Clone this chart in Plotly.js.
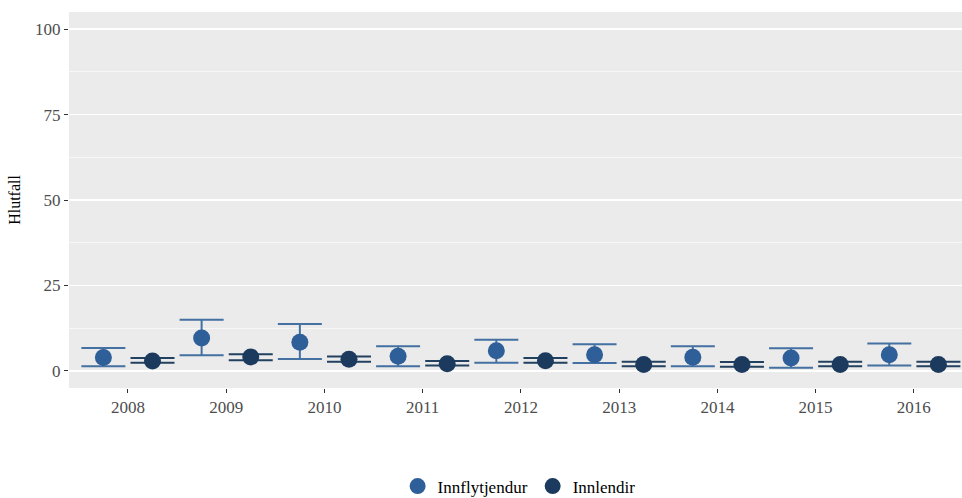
<!DOCTYPE html>
<html>
<head>
<meta charset="utf-8">
<script src="https://cdn.plot.ly/plotly-3.0.1.min.js"></script>
<style>html,body{margin:0;padding:0;background:#fff;}#chart{width:962px;height:498px;}</style>
</head>
<body>
<div id="chart"></div>
<script>
const years = ['2008','2009','2010','2011','2012','2013','2014','2015','2016'];

const innflytjendurValue = [3.9, 9.6, 8.4, 4.3, 5.9, 4.75, 4.0, 3.8, 4.75];
const innflytjendurUpper = [6.7, 15.0, 13.7, 7.2, 9.1, 7.8, 7.2, 6.6, 8.0];
const innflytjendurLower = [1.35, 4.6, 3.5, 1.35, 2.4, 2.3, 1.35, 0.96, 1.55];

const innlendirValue = [2.9, 4.1, 3.4, 2.1, 3.0, 1.9, 1.85, 1.9, 1.9];
const innlendirUpper = [3.8, 4.85, 4.2, 2.9, 3.8, 2.7, 2.6, 2.7, 2.7];
const innlendirLower = [2.4, 3.1, 2.7, 1.55, 2.4, 1.35, 1.25, 1.35, 1.35];

const yTicks = [0, 25, 50, 75, 100];

const colLight = '#2f5f98';
const colDark = '#1c3a5e';

function mkTrace(name, vals, up, lo, color, barColor) {
  return {
    type: 'scatter', mode: 'markers', name: name,
    x: years, y: vals,
    marker: {color: color, size: 17, line: {width: 0}},
    error_y: {
      type: 'data', symmetric: false,
      array: vals.map((v, i) => up[i] - v),
      arrayminus: vals.map((v, i) => v - lo[i]),
      color: barColor, thickness: 2, width: 22
    }
  };
}

const data = [
  mkTrace('Innflytjendur', innflytjendurValue, innflytjendurUpper, innflytjendurLower, colLight, '#4470a2'),
  mkTrace('Innlendir', innlendirValue, innlendirUpper, innlendirLower, colDark, '#22405f')
];

const fam = '"Liberation Serif", "Times New Roman", serif';

const layout = {
  width: 962, height: 498,
  margin: {l: 69, r: 0, t: 12, b: 110, autoexpand: false},
  paper_bgcolor: '#ffffff',
  plot_bgcolor: '#ebebeb',
  font: {family: fam, size: 17, color: '#4d4d4d'},
  scattermode: 'group',
  scattergap: 0,
  showlegend: true,
  legend: {
    orientation: 'h', x: 0.368, xanchor: 'left', y: -0.262, yanchor: 'middle',
    font: {family: fam, size: 17, color: '#000'},
    itemwidth: 30, bgcolor: 'rgba(0,0,0,0)'
  },
  xaxis: {
    type: 'category', range: [-0.6, 8.49],
    showgrid: false, zeroline: false,
    ticks: 'outside', ticklen: 4, tickcolor: '#333', tickwidth: 1,
    tickfont: {family: fam, size: 17, color: '#4d4d4d'},
    showline: false
  },
  yaxis: {
    range: [-5, 105],
    tickvals: yTicks, ticktext: yTicks.map(String),
    showgrid: true, gridcolor: '#ffffff', gridwidth: 1.4,
    zeroline: false,
    ticks: 'outside', ticklen: 4, tickcolor: '#333', tickwidth: 1,
    tickfont: {family: fam, size: 17, color: '#4d4d4d'},
    minor: {dtick: 12.5, tick0: 12.5, showgrid: true, gridcolor: '#ffffff', gridwidth: 0.6, ticks: ''},
    title: {text: 'Hlutfall', font: {family: fam, size: 16, color: '#000'}, standoff: 10}
  }
};

Plotly.newPlot('chart', data, layout, {displayModeBar: false, staticPlot: true});
</script>
</body>
</html>
